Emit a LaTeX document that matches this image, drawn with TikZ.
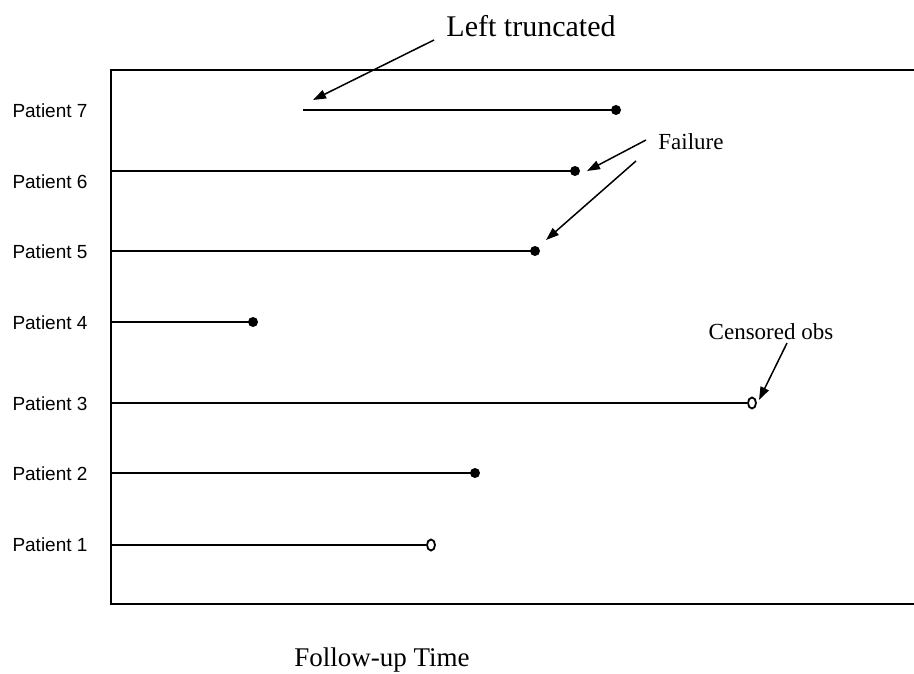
\documentclass[tikz,border=0pt]{standalone}
\usepackage{fontspec}
\setmainfont{Liberation Serif}
\setsansfont{Liberation Sans}
\usetikzlibrary{arrows.meta,shapes.geometric}
\begin{document}
\begin{tikzpicture}[x=1pt,y=-1pt,
  pat/.style={font=\sffamily\fontsize{19}{22}\selectfont, anchor=center, inner sep=0pt},
  ann/.style={font=\fontsize{23}{26}\selectfont, inner sep=0pt},
  big/.style={font=\fontsize{30}{33}\selectfont, inner sep=0pt},
  life/.style={line width=2.2pt},
  frame/.style={line width=2.2pt},
  fail/.style={circle, fill=black, inner sep=0pt, minimum size=10pt},
  cens/.style={ellipse, draw=black, line width=1.8pt, inner sep=0pt, minimum width=8pt, minimum height=11pt, fill=white},
  pointer/.style={line width=1.5pt, -{Triangle[length=13pt,width=9pt]}}
]
\useasboundingbox (0,0) rectangle (914,674);
% frame
\coordinate (tl) at (111,70);
\coordinate (bl) at (111,604);
\coordinate (tr) at (914,70);
\coordinate (br) at (914,604);
\draw[frame] (tr) -- (tl) -- (bl) -- (br);
% patient labels
\node[pat] (p7) at (50,111) {Patient 7};
\node[pat] (p6) at (50,182) {Patient 6};
\node[pat] (p5) at (50,252) {Patient 5};
\node[pat] (p4) at (50,323) {Patient 4};
\node[pat] (p3) at (50,404) {Patient 3};
\node[pat] (p2) at (50,474) {Patient 2};
\node[pat] (p1) at (50,545) {Patient 1};
% life lines
\coordinate (s7) at (303,110);
\coordinate (s6) at (111,171);
\coordinate (s5) at (111,251);
\coordinate (s4) at (111,322);
\coordinate (s3) at (111,403);
\coordinate (s2) at (111,473);
\coordinate (s1) at (111,545);
\node[fail] (e7) at (616,110) {};
\node[fail] (e6) at (575,171) {};
\node[fail] (e5) at (535,251) {};
\node[fail] (e4) at (253,322) {};
\node[cens] (e3) at (752,403) {};
\node[fail] (e2) at (475,473) {};
\node[cens] (e1) at (431,545) {};
\draw[life] (s7) -- (e7.center);
\draw[life] (s6) -- (e6.center);
\draw[life] (s5) -- (e5.center);
\draw[life] (s4) -- (e4.center);
\draw[life] (s3) -- (e3.west);
\draw[life] (s2) -- (e2.center);
\draw[life] (s1) -- (e1.west);
% annotations
\node[big] (lt) at (531,26) {Left truncated};
\node[ann] (fl) at (691,142) {Failure};
\node[ann] (co) at (771,332) {Censored obs};
\node[big, font=\fontsize{27}{30}\selectfont] (fu) at (382,660) {Follow-up Time};
\coordinate (ltA) at (434,40);
\coordinate (ltB) at (313,100);
\draw[pointer] (ltA) -- (ltB);
\coordinate (fA1) at (646,140);
\coordinate (fB1) at (587,171);
\coordinate (fA2) at (636,161);
\coordinate (fB2) at (546,240);
\draw[pointer] (fA1) -- (fB1);
\draw[pointer] (fA2) -- (fB2);
\coordinate (cA) at (787,343);
\coordinate (cB) at (759,400);
\draw[pointer] (cA) -- (cB);
\end{tikzpicture}
\end{document}
